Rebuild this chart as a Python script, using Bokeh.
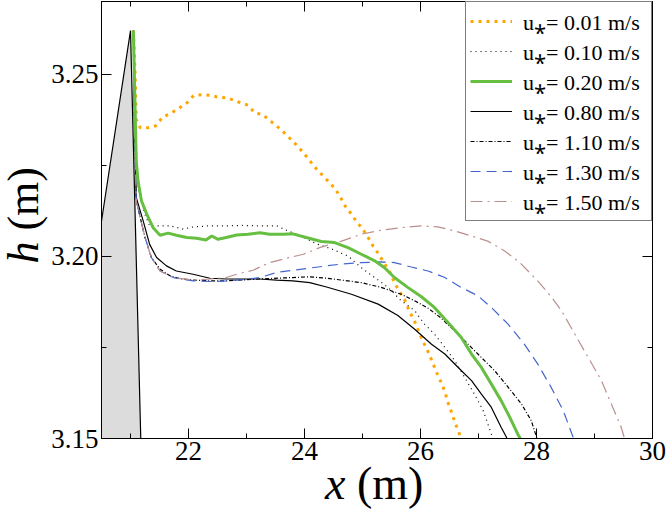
from bokeh.plotting import figure
from bokeh.models import (Range1d, FixedTicker, LinearAxis, Legend, LegendItem,
                          PrintfTickFormatter, Div, CustomLabelingPolicy)
from bokeh.layouts import row, column
from bokeh.embed import file_html
from bokeh.resources import INLINE

# ---------------- data ----------------
X_MAJOR = [22, 24, 26, 28, 30]
X_MINOR = [21, 23, 25, 27, 29]
Y_MAJOR = [3.15, 3.20, 3.25]
Y_MINOR = [3.175, 3.225]

DUNE_X = [20.0, 21.0, 21.2, 20.0]
DUNE_H = [3.1574, 3.262, 3.1354, 3.1354]

X_001 = [21.05, 21.08, 21.10, 21.17, 21.29, 21.44, 21.55, 21.68, 21.83, 21.98,
         22.09, 22.24, 22.38, 22.52, 22.68, 22.86, 23.03, 23.14, 23.27, 23.42,
         23.56, 23.68, 23.80, 23.92, 24.02, 24.11, 24.20, 24.31, 24.51, 24.61,
         24.68, 24.79, 24.89, 25.00, 25.10, 25.18, 25.28, 25.37, 25.47, 25.55,
         25.64, 25.73, 25.81, 25.90, 25.97, 26.04, 26.13, 26.20, 26.27, 26.35,
         26.42, 26.47, 26.54, 26.60, 26.67, 26.71]
H_001 = [3.262, 3.250, 3.2376, 3.2353, 3.2353, 3.2359, 3.2382, 3.2392, 3.2406, 3.2423,
         3.2442, 3.2444, 3.2442, 3.2437, 3.2435, 3.2424, 3.2415, 3.2394, 3.2390, 3.2371,
         3.2353, 3.2335, 3.2316, 3.2296, 3.2277, 3.2259, 3.2241, 3.2223, 3.2189, 3.2166,
         3.2143, 3.2120, 3.2097, 3.2076, 3.2051, 3.2029, 3.2006, 3.1983, 3.1958, 3.1928,
         3.1903, 3.1880, 3.1849, 3.1821, 3.1794, 3.1767, 3.1739, 3.1712, 3.1684, 3.1656,
         3.1629, 3.1600, 3.1570, 3.1542, 3.1513, 3.1495]

X_010 = [21.05, 21.08, 21.10, 21.13, 21.19, 21.25, 21.33, 21.48, 21.68, 21.91,
         22.08, 22.37, 22.65, 22.94, 23.23, 23.52, 23.69, 23.95, 24.20, 24.46,
         24.75, 24.98, 25.21, 25.44, 25.67, 25.90, 26.07, 26.24, 26.42, 26.59,
         26.76, 26.93, 27.08, 27.22, 27.26]
H_010 = [3.262, 3.240, 3.226, 3.219, 3.2152, 3.2115, 3.2084, 3.2084, 3.2084, 3.2075,
         3.2081, 3.2084, 3.2084, 3.2085, 3.2084, 3.2084, 3.2072, 3.2055, 3.2035, 3.2021,
         3.2001, 3.1969, 3.1942, 3.1915, 3.1878, 3.1851, 3.1814, 3.1787, 3.1750, 3.1714,
         3.1668, 3.1622, 3.1577, 3.1513, 3.1495]

X_020 = [21.05, 21.08, 21.10, 21.13, 21.19, 21.28, 21.39, 21.51, 21.65, 21.79,
         21.97, 22.14, 22.30, 22.40, 22.51, 22.65, 22.83, 23.03, 23.23, 23.40,
         23.63, 23.80, 24.03, 24.29, 24.52, 24.75, 24.98, 25.21, 25.38, 25.55,
         25.78, 26.01, 26.24, 26.47, 26.70, 26.88, 27.05, 27.22, 27.39, 27.54,
         27.69, 27.74]
H_020 = [3.262, 3.240, 3.226, 3.2207, 3.2152, 3.2116, 3.2079, 3.2058, 3.2064, 3.2058,
         3.2052, 3.2050, 3.2045, 3.2056, 3.2047, 3.2052, 3.2059, 3.2061, 3.2065, 3.2061,
         3.2061, 3.2062, 3.2052, 3.2041, 3.2038, 3.2024, 3.2006, 3.1988, 3.1969, 3.1942,
         3.1915, 3.1890, 3.1860, 3.1819, 3.1778, 3.1732, 3.1695, 3.1650, 3.1604, 3.1558,
         3.1508, 3.1495]

X_080 = [21.05, 21.07, 21.09, 21.10, 21.22, 21.33, 21.45, 21.62, 21.79, 22.08,
         22.37, 22.65, 22.94, 23.23, 23.52, 23.80, 24.09, 24.38, 24.81, 25.27,
         25.61, 25.90, 26.19, 26.42, 26.65, 26.88, 27.05, 27.22, 27.39, 27.48,
         27.50]
H_080 = [3.262, 3.235, 3.222, 3.2161, 3.2097, 3.2033, 3.1997, 3.1974, 3.1960, 3.1951,
         3.1940, 3.1938, 3.1938, 3.1938, 3.1935, 3.1933, 3.1928, 3.1916, 3.1896, 3.1869,
         3.1838, 3.1800, 3.1759, 3.1732, 3.1695, 3.1659, 3.1622, 3.1586, 3.1531, 3.1504,
         3.1495]

X_110 = [21.05, 21.07, 21.09, 21.10, 21.25, 21.36, 21.51, 21.68, 21.85, 22.08,
         22.37, 22.65, 23.23, 23.80, 24.09, 24.38, 24.64, 24.98, 25.32, 25.67,
         25.90, 26.13, 26.36, 26.70, 26.99, 27.28, 27.51, 27.74, 27.91, 28.00,
         28.01]
H_110 = [3.262, 3.235, 3.222, 3.2152, 3.2052, 3.1997, 3.1965, 3.1947, 3.1939, 3.1935,
         3.1933, 3.1933, 3.1938, 3.1942, 3.1944, 3.1940, 3.1935, 3.1928, 3.1915, 3.1896,
         3.1878, 3.1858, 3.1830, 3.1778, 3.1732, 3.1686, 3.1641, 3.1595, 3.1549, 3.1504,
         3.1495]

X_130 = [21.05, 21.07, 21.09, 21.10, 21.25, 21.36, 21.51, 21.74, 22.08, 22.42,
         22.65, 22.94, 23.23, 23.52, 23.80, 24.09, 24.38, 24.64, 24.98, 25.32,
         25.55, 25.84, 26.13, 26.42, 26.70, 26.99, 27.22, 27.51, 27.79, 28.02,
         28.25, 28.46, 28.63, 28.64]
H_130 = [3.262, 3.235, 3.222, 3.2152, 3.2052, 3.1997, 3.1960, 3.1942, 3.1933, 3.1931,
         3.1933, 3.1936, 3.1942, 3.1956, 3.1962, 3.1968, 3.1974, 3.1979, 3.1983, 3.1985,
         3.1983, 3.1971, 3.1960, 3.1942, 3.1915, 3.1892, 3.1860, 3.1814, 3.1759, 3.1705,
         3.1641, 3.1577, 3.1504, 3.1495]

X_150 = [21.05, 21.07, 21.09, 21.10, 21.25, 21.36, 21.51, 21.74, 22.08, 22.37,
         22.65, 22.83, 23.11, 23.40, 23.69, 23.98, 24.26, 24.64, 24.98, 25.32,
         25.67, 26.01, 26.30, 26.59, 26.88, 27.16, 27.45, 27.70, 28.02, 28.25,
         28.43, 28.66, 28.89, 29.12, 29.29, 29.46, 29.51, 29.52]
H_150 = [3.262, 3.235, 3.222, 3.2152, 3.2052, 3.1997, 3.1960, 3.1942, 3.1935, 3.1938,
         3.1942, 3.1951, 3.1962, 3.1983, 3.1995, 3.2006, 3.2024, 3.2042, 3.2061, 3.2072,
         3.2079, 3.2084, 3.2081, 3.2070, 3.2056, 3.2042, 3.2015, 3.1985, 3.1933, 3.1890,
         3.1851, 3.1787, 3.1723, 3.1659, 3.1595, 3.1531, 3.1504, 3.1495]

LABELS = ["u\u204e= 0.01 m/s", "u\u204e= 0.10 m/s", "u\u204e= 0.20 m/s",
          "u\u204e= 0.80 m/s", "u\u204e= 1.10 m/s", "u\u204e= 1.30 m/s",
          "u\u204e= 1.50 m/s"]

# ---------------- figure ----------------
FONT = "Liberation Serif"

fig = figure(width=618, height=472, output_backend="svg", toolbar_location=None,
             x_range=Range1d(20.5, 30), y_range=Range1d(3.15, 3.27),
             min_border_left=52, min_border_right=14, min_border_top=1,
             min_border_bottom=34)
fig.xgrid.visible = False
fig.ygrid.visible = False
fig.outline_line_color = "black"
fig.outline_line_width = 1
fig.background_fill_color = "white"
fig.border_fill_color = "white"

xt = FixedTicker(ticks=X_MAJOR, minor_ticks=X_MINOR)
yt = FixedTicker(ticks=Y_MAJOR, minor_ticks=Y_MINOR)

bottom_axis = fig.below[0]
left_axis = fig.left[0]
top_axis = LinearAxis(ticker=xt)
right_axis = LinearAxis(ticker=yt)
fig.add_layout(top_axis, "above")
fig.add_layout(right_axis, "right")

bottom_axis.ticker = xt
left_axis.ticker = yt
left_axis.formatter = PrintfTickFormatter(format="%.2f")

NO_LABELS_JS = """
const ids = Array.from(indices)
for (const i of ids) {
  if (typeof indices.unset === 'function') { indices.unset(i) }
  else { indices.set(i, false) }
}
return indices
"""


def style_axis(ax, labels=True):
    ax.axis_line_color = "black"
    ax.axis_line_width = 1
    ax.major_tick_in = 10
    ax.major_tick_out = 0
    ax.minor_tick_in = 5
    ax.minor_tick_out = 0
    ax.major_tick_line_color = "black"
    ax.minor_tick_line_color = "black"
    ax.major_label_text_font = FONT
    ax.major_label_text_color = "black"
    if labels:
        ax.major_label_text_font_size = "27px"
        ax.major_label_standoff = 3
    else:
        # mirrored tick marks only, no labels
        ax.major_label_text_font_size = "0px"
        ax.major_label_standoff = 0
        ax.major_label_policy = CustomLabelingPolicy(code=NO_LABELS_JS)


style_axis(bottom_axis)
style_axis(left_axis)
style_axis(top_axis, False)
style_axis(right_axis, False)

# dune
fig.patch(DUNE_X, DUNE_H, fill_color="#dcdcdc", line_color="black", line_width=1.2)

r001 = fig.line(X_001, H_001, line_color="#ffa500", line_width=3, line_dash="3 5")
r010 = fig.line(X_010, H_010, line_color="black", line_width=1.2, line_dash="1 4")
r080 = fig.line(X_080, H_080, line_color="black", line_width=1.2)
r110 = fig.line(X_110, H_110, line_color="black", line_width=1.2, line_dash="4 2 1 2")
r130 = fig.line(X_130, H_130, line_color="#4466cc", line_width=1.2, line_dash="10 6")
r150 = fig.line(X_150, H_150, line_color="#bc8f8f", line_width=1.2, line_dash="12 5 2 5")
r020 = fig.line(X_020, H_020, line_color="#66bf40", line_width=3)

items = [LegendItem(label=LABELS[0], renderers=[r001]),
         LegendItem(label=LABELS[1], renderers=[r010]),
         LegendItem(label=LABELS[2], renderers=[r020]),
         LegendItem(label=LABELS[3], renderers=[r080]),
         LegendItem(label=LABELS[4], renderers=[r110]),
         LegendItem(label=LABELS[5], renderers=[r130]),
         LegendItem(label=LABELS[6], renderers=[r150])]
legend = Legend(items=items, location="top_right", margin=0, padding=4,
                spacing=0, label_standoff=11, glyph_width=42, glyph_height=20,
                label_height=27, label_width=124, label_text_font=FONT,
                label_text_font_size="22px", label_text_line_height=1.0,
                label_text_color="black",
                border_line_color="black", border_line_width=1,
                background_fill_color="white", background_fill_alpha=1)
fig.add_layout(legend)

# axis titles: italic variable + upright unit, as real text
ylab = Div(text=(
    '<div style="width:48px;height:430px;display:flex;align-items:center;'
    'justify-content:flex-start;">'
    '<span style="display:inline-block;writing-mode:vertical-rl;'
    'transform:rotate(180deg);'
    "font-family:'Liberation Serif';font-size:44px;line-height:48px;"
    'white-space:nowrap;color:black;"><i>h</i> (m)</span></div>'),
    width=48, height=472, margin=0)
xlab = Div(text=(
    "<div style=\"font-family:'Liberation Serif';font-size:46px;line-height:24px;"
    'padding-left:325px;white-space:nowrap;color:black;"><i>x</i> (m)</div>'),
    width=666, height=38, margin=0)

p = column(row(ylab, fig, spacing=0, margin=0), xlab, spacing=0, margin=0)

open("out.html", "w").write(file_html(p, INLINE))
